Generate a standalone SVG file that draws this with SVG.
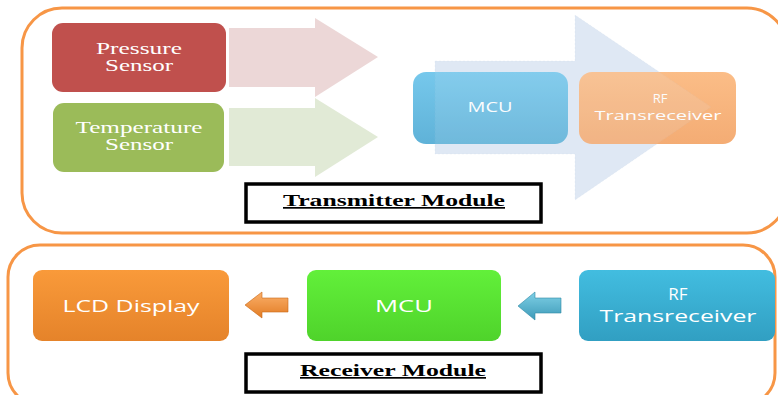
<svg xmlns="http://www.w3.org/2000/svg" width="778" height="395" viewBox="0 0 778 395">
<style>
.cont{fill:#fff;stroke:#f79646;stroke-width:3}
.serif{font-family:"Liberation Serif","Times New Roman",serif;fill:#fff;font-size:16px}
.sans{font-family:"Open Sans","Liberation Sans",sans-serif;fill:#fff}
.title{font-family:"Liberation Serif","Times New Roman",serif;font-weight:bold;font-size:17px;fill:#000;text-decoration:underline}
.tbox{fill:#fff;stroke:#000;stroke-width:3.5}
</style>
<defs>
<linearGradient id="gOr" x1="0" y1="0" x2="0" y2="1"><stop offset="0" stop-color="#f99a3a"/><stop offset="1" stop-color="#e5832a"/></linearGradient>
<linearGradient id="gGr" x1="0" y1="0" x2="0" y2="1"><stop offset="0" stop-color="#62f03a"/><stop offset="1" stop-color="#4fd32b"/></linearGradient>
<linearGradient id="gBl" x1="0" y1="0" x2="0" y2="1"><stop offset="0" stop-color="#42bde0"/><stop offset="1" stop-color="#319fc2"/></linearGradient>
<linearGradient id="gMcu" x1="0" y1="0" x2="0" y2="1"><stop offset="0" stop-color="#76c8ec"/><stop offset="1" stop-color="#5fb2d8"/></linearGradient>
<linearGradient id="gRf" x1="0" y1="0" x2="0" y2="1"><stop offset="0" stop-color="#fbbd87"/><stop offset="1" stop-color="#f4ac74"/></linearGradient>
<linearGradient id="gArO" x1="0" y1="0" x2="0" y2="1"><stop offset="0" stop-color="#fbb06a"/><stop offset="1" stop-color="#e27c24"/></linearGradient>
<linearGradient id="gArB" x1="0" y1="0" x2="0" y2="1"><stop offset="0" stop-color="#7fd0e6"/><stop offset="1" stop-color="#3d9ab8"/></linearGradient>
</defs>
<rect width="778" height="395" fill="#fff"/>

<g id="transmitter-module">
<rect class="cont" x="22" y="8" width="765" height="225" rx="40"/>
</g>
<g id="receiver-module">
<rect class="cont" x="8" y="245" width="767" height="160" rx="32"/>
</g>

<g id="pressure-sensor">
<rect x="52" y="23" width="174" height="69" rx="11" fill="#c0504d"/>
<text class="serif" x="139" y="54" text-anchor="middle" textLength="86" lengthAdjust="spacingAndGlyphs">Pressure</text>
<text class="serif" x="139" y="71" text-anchor="middle" textLength="68" lengthAdjust="spacingAndGlyphs">Sensor</text>
</g>
<g id="temperature-sensor">
<rect x="53" y="103" width="171" height="69" rx="11" fill="#9bbb59"/>
<text class="serif" x="139" y="133" text-anchor="middle" textLength="127" lengthAdjust="spacingAndGlyphs">Temperature</text>
<text class="serif" x="139" y="150" text-anchor="middle" textLength="68" lengthAdjust="spacingAndGlyphs">Sensor</text>
</g>

<g id="connectors">
<polygon points="229,28 315,28 315,18 378,57 315,97 315,87 229,87" fill="#e6c9c9" opacity="0.75"/>
<polygon points="229,108 315,108 315,98 378,137 315,177 315,166 229,166" fill="#d9e5cc" opacity="0.8"/>
<polygon points="435,61 575,61 575,15 711,107 575,200 575,154 435,154" fill="#dfe8f4"/>
<polygon points="245,305 262,292 262,298 288,298 288,312 262,312 262,318" fill="url(#gArO)" stroke="#c96a1a" stroke-width="0.6"/>
<polygon points="518,306 535,292 535,298 561,298 561,313 535,313 535,320" fill="url(#gArB)" stroke="#2f8aa6" stroke-width="0.6"/>
</g>

<g id="mcu-tx">
<rect x="413" y="72" width="155" height="72" rx="13" fill="url(#gMcu)"/>
<text class="sans" x="490" y="112" text-anchor="middle" font-size="15" textLength="45" lengthAdjust="spacingAndGlyphs">MCU</text>
</g>
<g id="rf-tx">
<rect x="579" y="72" width="157" height="72" rx="13" fill="url(#gRf)"/>
<text class="sans" x="660" y="103" text-anchor="middle" font-size="13">RF</text>
<text class="sans" x="658" y="120" text-anchor="middle" font-size="13" textLength="127" lengthAdjust="spacingAndGlyphs">Transreceiver</text>
</g>
<polygon points="435,61 575,61 575,15 711,107 575,200 575,154 435,154" fill="#e4ecf6" opacity="0.12" stroke="#b5c8de" stroke-width="1" stroke-dasharray="2,2"/>

<g id="transmitter-label">
<rect class="tbox" x="246" y="184" width="295" height="38"/>
<text class="title" x="394" y="206" text-anchor="middle" textLength="222" lengthAdjust="spacingAndGlyphs">Transmitter Module</text>
</g>

<g id="lcd-display">
<rect x="33" y="270" width="196" height="71" rx="9" fill="url(#gOr)"/>
<text class="sans" x="131" y="312" text-anchor="middle" font-size="17" textLength="137" lengthAdjust="spacingAndGlyphs">LCD Display</text>
</g>
<g id="mcu-rx">
<rect x="307" y="270" width="194" height="71" rx="9" fill="url(#gGr)"/>
<text class="sans" x="404" y="312" text-anchor="middle" font-size="17" textLength="58" lengthAdjust="spacingAndGlyphs">MCU</text>
</g>
<g id="rf-rx">
<rect x="579" y="270" width="196" height="71" rx="9" fill="url(#gBl)"/>
<text class="sans" x="678" y="300" text-anchor="middle" font-size="17">RF</text>
<text class="sans" x="678" y="322" text-anchor="middle" font-size="17" textLength="157" lengthAdjust="spacingAndGlyphs">Transreceiver</text>
</g>

<g id="receiver-label">
<rect class="tbox" x="246" y="354" width="295" height="38"/>
<text class="title" x="393" y="376" text-anchor="middle" textLength="186" lengthAdjust="spacingAndGlyphs">Receiver Module</text>
</g>
</svg>
